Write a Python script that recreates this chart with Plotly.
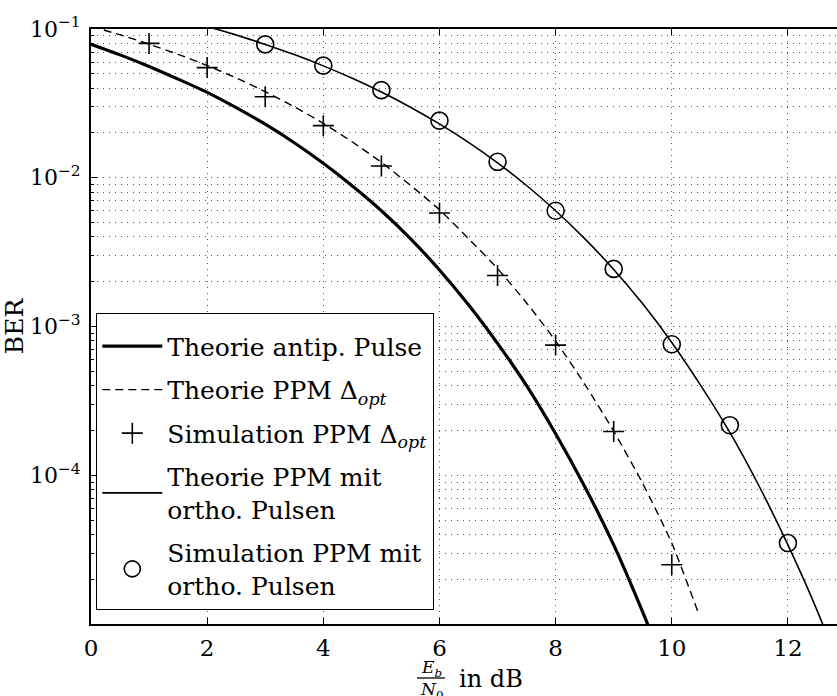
import plotly.graph_objects as go

# ---------------- data ----------------
x_antip = [0, 0.5, 1, 1.5, 2, 2.5, 3, 3.5, 4, 4.5, 5, 5.5, 6, 6.5, 7, 7.5, 8, 8.5, 9, 9.5, 10]
ber_antip = [0.079, 0.067, 0.056, 0.046, 0.0375, 0.0296, 0.0229, 0.0172, 0.0125, 0.0088,
             0.0060, 0.0039, 0.0024, 0.0014, 7.7e-4, 4.0e-4, 1.9e-4, 8.4e-5, 3.4e-5, 1.2e-5, 3.9e-6]

x_ppm_opt = [0, 0.5, 1, 1.5, 2, 2.5, 3, 3.5, 4, 4.5, 5, 5.5, 6, 6.5, 7, 7.5, 8, 8.5, 9, 9.5, 10, 10.47]
ber_ppm_opt = [0.104, 0.0915, 0.079, 0.0676, 0.0568, 0.0469, 0.0379, 0.0300, 0.0232, 0.0174,
               0.0127, 0.0089, 0.0061, 0.0039, 0.00245, 0.00144, 8.0e-4, 4.1e-4, 1.98e-4,
               8.8e-5, 3.5e-5, 1.15e-5]

x_sim_opt = [1, 2, 3, 4, 5, 6, 7, 8, 9, 10]
ber_sim_opt = [0.080, 0.055, 0.035, 0.0224, 0.0120, 0.0058, 0.0022, 7.5e-4, 1.97e-4, 2.5e-5]

x_ortho = [2, 2.5, 3, 3.5, 4, 4.5, 5, 5.5, 6, 6.5, 7, 7.5, 8, 8.5, 9, 9.5, 10, 10.5, 11, 11.5, 12, 12.5, 13]
ber_ortho = [0.104, 0.0912, 0.0788, 0.0673, 0.0565, 0.0466, 0.0377, 0.0298, 0.0230, 0.0173,
             0.0126, 0.00887, 0.0060, 0.0039, 0.00242, 0.00142, 7.8e-4, 4.0e-4, 1.94e-4,
             8.5e-5, 3.4e-5, 1.24e-5, 4.0e-6]

x_sim_ortho = [3, 4, 5, 6, 7, 8, 9, 10, 11, 12]
ber_sim_ortho = [0.0788, 0.0567, 0.0388, 0.0242, 0.0128, 0.0060, 0.00244, 7.6e-4, 2.17e-4, 3.5e-5]

names = ["Theorie antip. Pulse",
         "Theorie PPM \u0394<sub><i>opt</i></sub>",
         "Simulation PPM \u0394<sub><i>opt</i></sub>",
         "Theorie PPM mit<br>ortho. Pulsen",
         "Simulation PPM mit<br>ortho. Pulsen"]

y_tick_vals = [1e-4, 1e-3, 1e-2, 1e-1]
y_tick_text = ["10<sup>\u22124</sup>", "10<sup>\u22123</sup>", "10<sup>\u22122</sup>", "10<sup>\u22121</sup>"]

# ---------------- figure ----------------
W, H = 837, 696
L, R, T, B = 91, 0, 29, 72
PW, PH = W - L - R, H - T - B


def px(xp):
    return (xp - L) / PW


def py(yp):
    return (H - B - yp) / PH


FONT = "DejaVu Serif"
fig = go.Figure()

fig.add_trace(go.Scatter(x=x_antip, y=ber_antip, mode="lines", name=names[0],
                         line=dict(color="black", width=3.2, shape="spline", smoothing=0.6),
                         legendgroup="a"))
fig.add_trace(go.Scatter(x=x_ppm_opt, y=ber_ppm_opt, mode="lines", name=names[1],
                         line=dict(color="black", width=1.4, dash="8px,5px", shape="spline", smoothing=0.6),
                         legendgroup="b"))
fig.add_trace(go.Scatter(x=x_sim_opt, y=ber_sim_opt, mode="markers", name=names[2],
                         marker=dict(symbol="cross-thin-open", size=15, color="black",
                                     line=dict(color="black", width=1.6)),
                         legendgroup="c"))
fig.add_trace(go.Scatter(x=x_ortho, y=ber_ortho, mode="lines", name=names[3],
                         line=dict(color="black", width=1.6, shape="spline", smoothing=0.6),
                         legendgroup="d"))
fig.add_trace(go.Scatter(x=x_sim_ortho, y=ber_sim_ortho, mode="markers", name=names[4],
                         marker=dict(symbol="circle-open", size=17, color="black",
                                     line=dict(color="black", width=1.6)),
                         legendgroup="e"))

grid_style = dict(showgrid=True, gridcolor="#555", gridwidth=1, griddash="1px,5px")

minor_vals = [k * 10.0 ** e for e in range(-5, -1) for k in range(2, 10)]

fig.update_xaxes(range=[0, 12.845], tick0=0, dtick=2, ticks="inside", ticklen=6,
                 tickcolor="black", tickwidth=1, showline=True, linecolor="black", linewidth=2,
                 mirror="ticks", zeroline=False, ticklabelstandoff=2,
                 tickfont=dict(family=FONT, size=23, color="black"), **grid_style)
fig.update_yaxes(type="log", range=[-5, -1], tickvals=y_tick_vals, ticktext=y_tick_text,
                 ticks="inside", ticklen=6, tickcolor="black", tickwidth=1,
                 showline=True, linecolor="black", linewidth=2, zeroline=False,
                 ticklabelstandoff=4,
                 tickfont=dict(family=FONT, size=22, color="black"),
                 title=dict(text="BER", font=dict(family=FONT, size=25, color="black"), standoff=5),
                 minor=dict(tickvals=minor_vals, ticks="inside", ticklen=3, tickcolor="black",
                            showgrid=True, gridcolor="#555", gridwidth=1, griddash="1px,5px"),
                 **grid_style)

fig.update_layout(
    width=W, height=H,
    margin=dict(l=L, r=R, t=T, b=B, autoexpand=False),
    paper_bgcolor="white", plot_bgcolor="white",
    font=dict(family=FONT, size=23, color="black"),
    showlegend=True,
    legend=dict(x=px(96), y=py(313), xanchor="left", yanchor="top",
                bgcolor="white", bordercolor="black", borderwidth=1.3,
                font=dict(family=FONT, size=25, color="black"),
                title=dict(text="\u200b", font=dict(family=FONT, size=7, color="white")),
                itemwidth=60, tracegroupgap=8, traceorder="grouped",
                itemclick=False, itemdoubleclick=False),
)

# x-axis title built as a fraction:  E_b / N_0  in dB
fig.add_annotation(x=px(431), y=py(668), xref="paper", yref="paper", showarrow=False,
                   text="<i>E<sub>b</sub></i>", font=dict(family=FONT, size=17, color="black"),
                   xanchor="center", yanchor="middle")
fig.add_shape(type="line", xref="paper", yref="paper", x0=px(417), x1=px(445), y0=py(678), y1=py(678),
              line=dict(color="black", width=1.3))
fig.add_annotation(x=px(431), y=py(690), xref="paper", yref="paper", showarrow=False,
                   text="<i>N</i><sub>0</sub>", font=dict(family=FONT, size=17, color="black"),
                   xanchor="center", yanchor="middle")
fig.add_annotation(x=px(457), y=py(679), xref="paper", yref="paper", showarrow=False,
                   text="in dB", font=dict(family=FONT, size=24, color="black"),
                   xanchor="left", yanchor="middle")

fig.write_html("out.html")
